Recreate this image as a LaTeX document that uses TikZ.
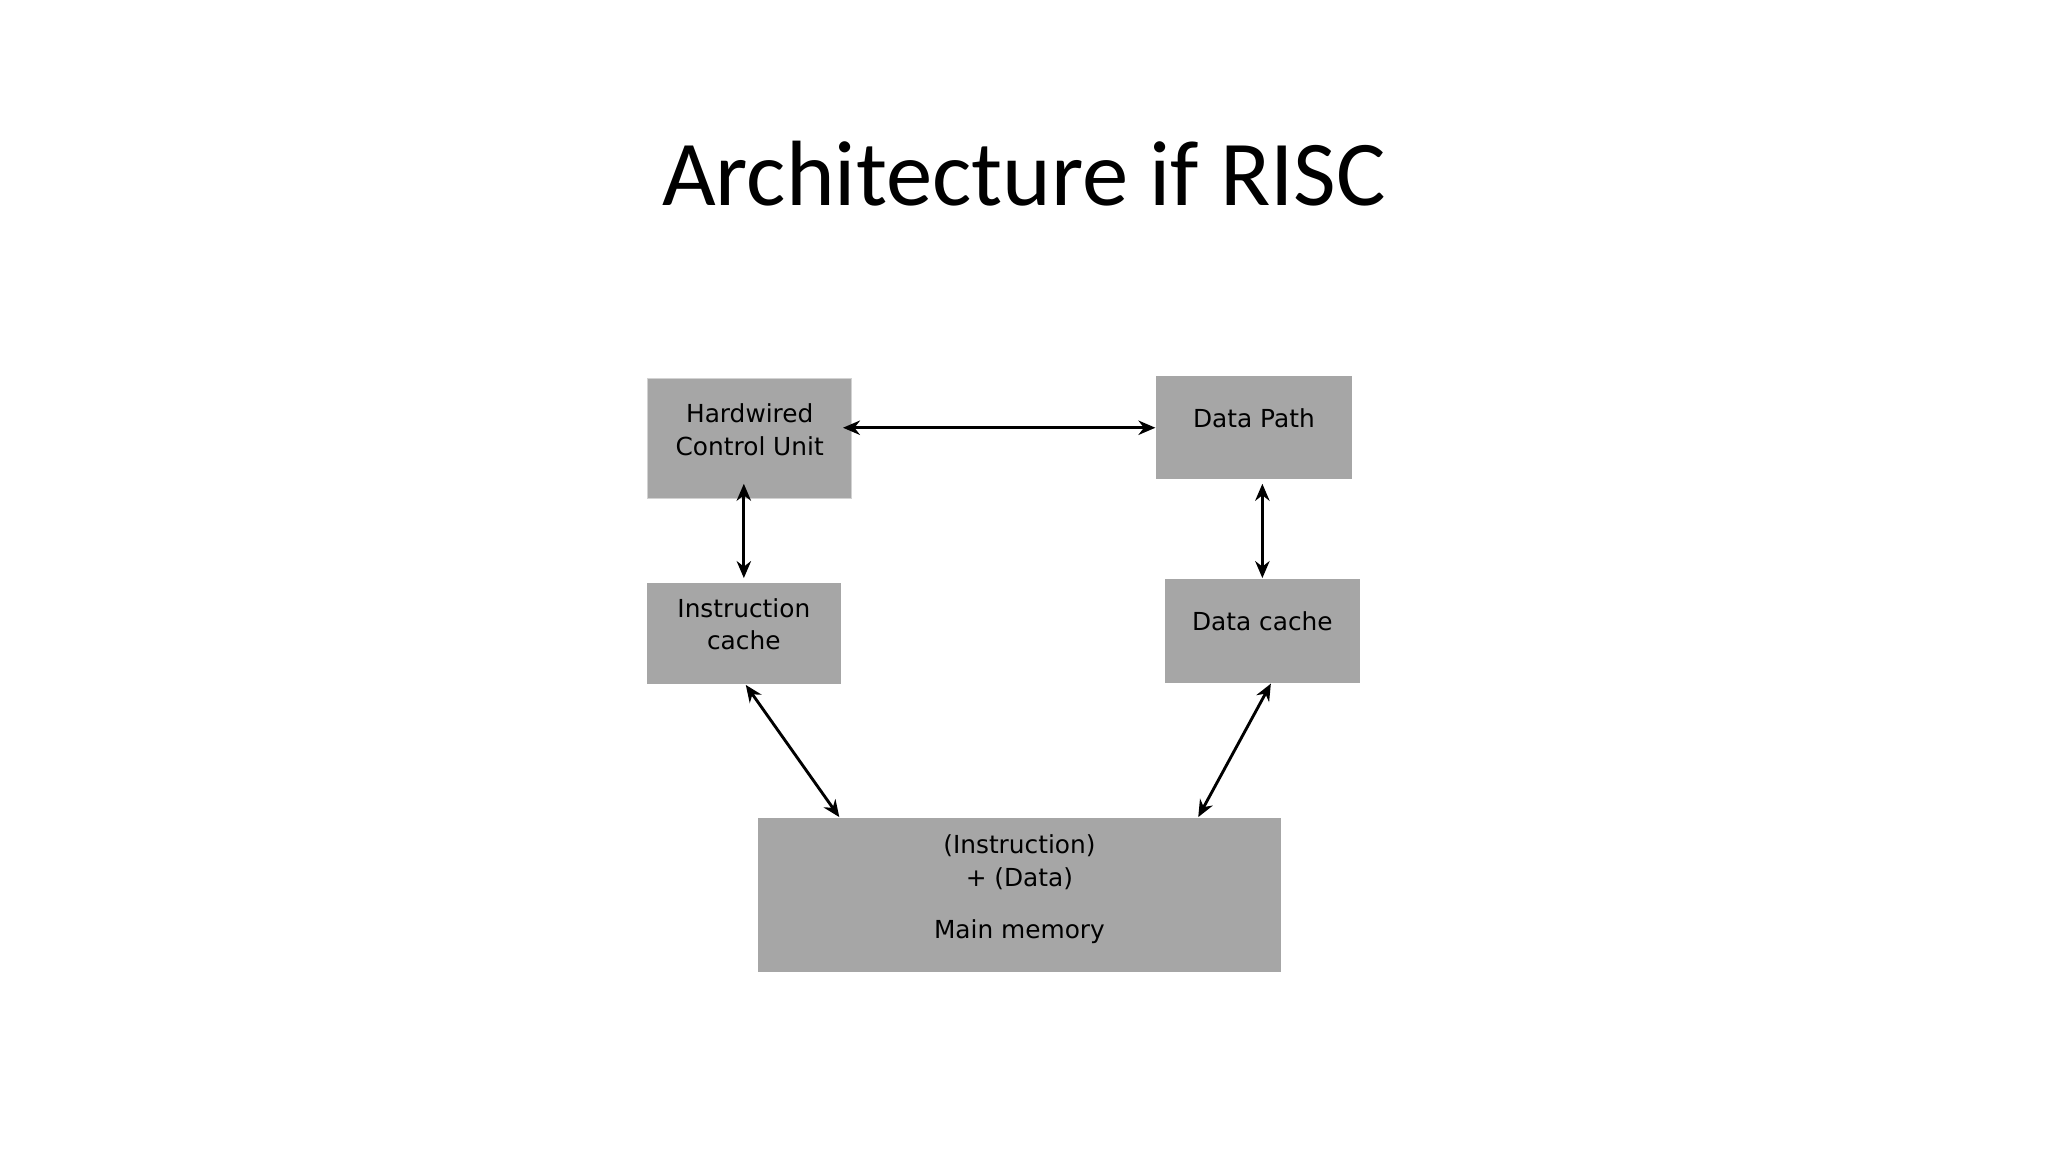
\documentclass[tikz,border=0pt]{standalone}
\usepackage{fontspec}
\setmainfont{DejaVu Sans}
\newfontfamily\titlefont{Carlito}
\usetikzlibrary{positioning,arrows.meta}

\definecolor{boxgray}{RGB}{166,166,166}
\tikzset{
  unitbox/.style={fill=boxgray,inner sep=0pt},
  boxtext/.style={align=center,font=\fontsize{9.5}{12.5}\selectfont,inner sep=0pt},
  link/.style={{Stealth[length=6.5pt,width=5.5pt]}-{Stealth[length=6.5pt,width=5.5pt]},line width=1.1pt},
}

\begin{document}
\begin{tikzpicture}[x=0.5pt,y=-0.5pt]
		\useasboundingbox (0,0) rectangle (1568,882);
		\node(title) [anchor=base,font=\titlefont\fontsize{35.5}{40}\selectfont] at (784,157) {Architecture if RISC};
		% boxes
		\node(hcu) [unitbox,draw=gray!35,minimum width=78pt,minimum height=46pt] at (574,336) {};
		\node(dp) [unitbox,minimum width=75pt,minimum height=39.5pt] at (960,327.5) {};
		\node(ic) [unitbox,minimum width=74.5pt,minimum height=39pt] at (569.5,485) {};
		\node(dc) [unitbox,minimum width=74.5pt,minimum height=40pt] at (966.5,483) {};
		\node(mm) [unitbox,minimum width=200.5pt,minimum height=59pt] at (780.5,685) {};
		% labels
		\node(hcutext) [boxtext] at (574,329) {Hardwired\\Control Unit};
		\node(dptext) [boxtext] at (960,320) {Data Path};
		\node(ictext) [boxtext] at (569.5,478) {Instruction\\cache};
		\node(dctext) [boxtext] at (966.5,476) {Data cache};
		\node(mmtext) [boxtext] at (780.5,681) {(Instruction)\\+ (Data)\\[7.5pt]Main memory};
		% connectors
		\draw[link] ([xshift=-3.5pt]hcu.east |- dp.west) -- (dp.west);
		\draw[link] ([yshift=6pt]hcu.south -| ic.north) -- ([yshift=1.5pt]ic.north);
		\draw[link] ([yshift=-1.5pt]dp.south -| dc.north) -- (dc.north);
		\draw[link] ([xshift=0.75pt]ic.south) -- ([xshift=31.5pt]mm.north west);
		\draw[link] ([xshift=3.25pt]dc.south) -- ([xshift=-32pt]mm.north east);
\end{tikzpicture}
\end{document}
